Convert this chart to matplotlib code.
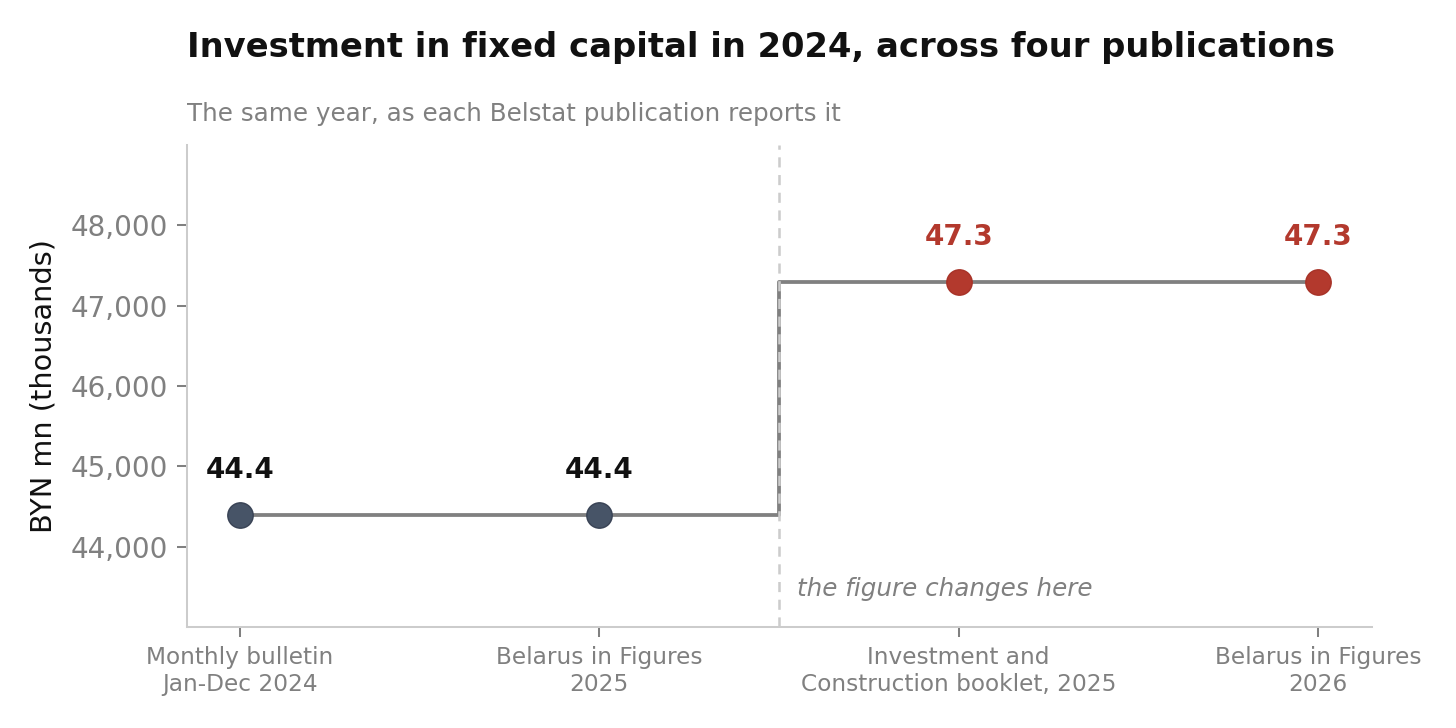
import matplotlib
matplotlib.use("Agg")
import matplotlib.pyplot as plt
from matplotlib.ticker import FuncFormatter

plt.rcParams["font.family"] = ["DejaVu Sans"]

publications = ["Monthly bulletin\nJan-Dec 2024", "Belarus in Figures\n2025",
                "Investment and\nConstruction booklet, 2025", "Belarus in Figures\n2026"]
values = [44400, 44400, 47300, 47300]
labels = ["44.4", "44.4", "47.3", "47.3"]
point_colors = ["#475467", "#475467", "#b3392d", "#b3392d"]
edge_colors = ["#3a4456", "#3a4456", "#a83328", "#a83328"]
label_colors = ["#111111", "#111111", "#b3392d", "#b3392d"]
yticks = [44000, 45000, 46000, 47000, 48000]

fig = plt.figure(figsize=(8, 4), dpi=182)
ax = fig.add_axes([0.1284, 0.1387, 0.8139, 0.6621])

x = list(range(len(values)))
ax.step(x, values, where="mid", color="#808080", lw=1.5, zorder=2)
ax.axvline(1.5, color="#cccccc", lw=1.0, ls=(0, (4, 3)), zorder=3)
for xi, v, c, ec, lab, lc in zip(x, values, point_colors, edge_colors, labels, label_colors):
    ax.plot(xi, v, "o", ms=10, color=c, mec=ec, mew=0.6, zorder=4)
    ax.annotate(lab, (xi, v), xytext=(0, 12), textcoords="offset points",
                ha="center", va="bottom", fontsize=11, fontweight="bold", color=lc)

ax.text(1.55, 43470, "the figure changes here", fontsize=9.75, style="italic",
        color="#808080", ha="left", va="center")

ax.set_xlim(-0.147, 3.15)
ax.set_ylim(43000, 49000)
ax.set_xticks(x)
ax.set_xticklabels(publications, fontsize=9.2, color="#808080")
ax.set_yticks(yticks)
ax.yaxis.set_major_formatter(FuncFormatter(lambda v, p: f"{int(v):,}"))
ax.tick_params(axis="y", labelsize=11, labelcolor="#808080", color="#808080", length=4)
ax.tick_params(axis="x", color="#808080", length=4)
ax.set_ylabel("BYN mn (thousands)", fontsize=11.4, color="#111111", labelpad=5)
for s in ["top", "right"]:
    ax.spines[s].set_visible(False)
for s in ["left", "bottom"]:
    ax.spines[s].set_color("#cccccc")

fig.text(0.1284, 0.935, "Investment in fixed capital in 2024, across four publications",
         fontsize=13.35, fontweight="bold", color="#111111", ha="left", va="center")
fig.text(0.1284, 0.843, "The same year, as each Belstat publication reports it",
         fontsize=9.75, color="#808080", ha="left", va="center")

fig.savefig("out.png", dpi=182, facecolor="white")
